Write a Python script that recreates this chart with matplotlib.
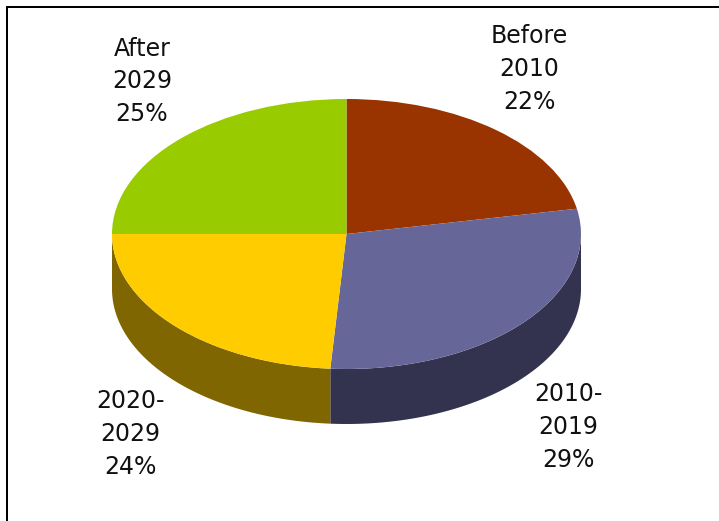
import numpy as np
import matplotlib
matplotlib.use("Agg")
import matplotlib.pyplot as plt

categories = ["Before\n2010", "2010-\n2019", "2020-\n2029", "After\n2029"]
values = [22.0, 29.1, 23.9, 25.0]
top_colors = ["#993300", "#666699", "#FFCC00", "#99CC00"]
side_colors = ["#4D1A00", "#333350", "#806600", "#4D6600"]

W, H = 719, 521
cx, cy, rx, ry, depth = 346.5, 234, 234.5, 135, 55

fig = plt.figure(figsize=(W / 100, H / 100), dpi=100, facecolor="white")
ax = fig.add_axes([0, 0, 1, 1])
ax.pie(values, colors=top_colors, startangle=90, counterclock=False, radius=1,
       wedgeprops=dict(linewidth=0))
ax.set_aspect("auto")
ax.set_xlim((0 - cx) / rx, (W - cx) / rx)
ax.set_ylim((cy - H) / ry, (cy - 0) / ry)
ax.axis("off")

# Side wall of the lower half of the pie
d = depth / ry
cum = np.cumsum([0] + values) / sum(values)
for i in range(len(values)):
    a0 = 90 - 360 * cum[i]
    a1 = 90 - 360 * cum[i + 1]
    hi, lo = min(a0, 0), max(a1, -180)
    if hi <= lo:
        continue
    t = np.radians(np.linspace(hi, lo, 120))
    x = np.cos(t)
    y = np.sin(t)
    ax.fill(np.r_[x, x[::-1]], np.r_[y, y[::-1] - d], color=side_colors[i],
            lw=0, zorder=0.5)

# Frame on the left and top edges
to_data = lambda px, py: ((px - cx) / rx, (cy - py) / ry)
xs, ys = zip(*[to_data(7, H), to_data(7, 7), to_data(W, 7)])
ax.plot(xs, ys, color="black", lw=1.44, solid_joinstyle="miter", clip_on=False)

label_px = [(529, 69), (568, 427), (130, 434), (142, 81.5)]
label_txt = [f"{c}\n{round(v)}%" for c, v in zip(categories, values)]
for (px, py), s in zip(label_px, label_txt):
    xd, yd = to_data(px, py)
    ax.text(xd, yd, s, ha="center", va="center", fontsize=17, color="#111111",
            family="DejaVu Sans", linespacing=1.47, multialignment="center")

fig.savefig("out.png", dpi=100)
